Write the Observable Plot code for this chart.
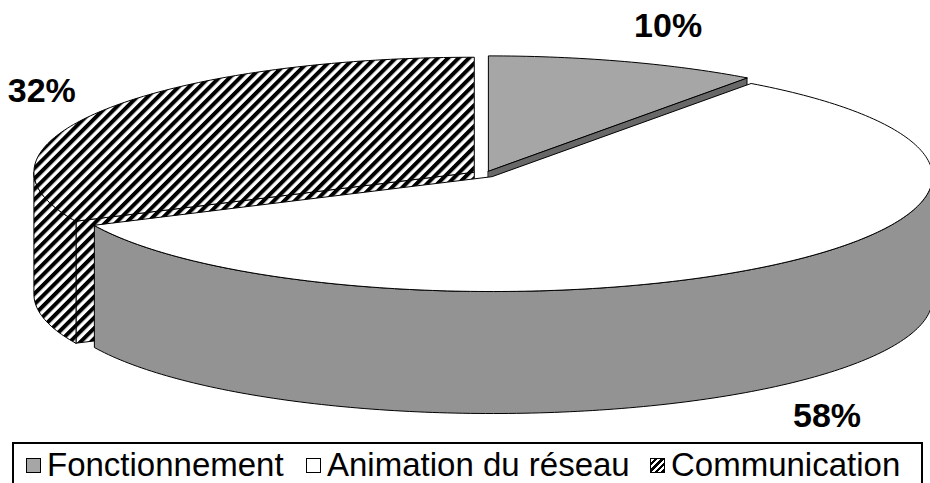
<!DOCTYPE html>
<html>
<head>
<meta charset="utf-8">
<script src="https://cdn.jsdelivr.net/npm/d3@7"></script>
<script src="https://cdn.jsdelivr.net/npm/@observablehq/plot@0.6"></script>
<style>
  body { margin: 0; background: #fff; font-family: "Liberation Sans", Arial, sans-serif; }
  #wrap { position: relative; width: 930px; height: 483px; overflow: hidden; background: #fff; }
  #legend { position: absolute; left: 12px; top: 442px; width: 911px; height: 56px; border: 2px solid #000;
            box-sizing: border-box; font-size: 33px; color: #000; white-space: nowrap; }
  .item { position: absolute; top: 5px; display: flex; align-items: center; line-height: 32px; }
  .sw { width: 15px; height: 15px; border: 1px solid #000; box-sizing: border-box; margin-right: 6px; display: inline-block; }
</style>
</head>
<body>
<div id="wrap"><div id="chart"></div><div id="legend"></div></div>
<script>
// ---- data ----
const categories = ["Fonctionnement", "Animation du réseau", "Communication"];
const values = [10, 58, 32];
const pctLabels = ["10%", "58%", "32%"];

// ---- styles / layout ----
const topColors = ["#a6a6a6", "#ffffff", "url(#hatch)"];
const sideColors = ["#686868", "#939393", "url(#hatch)"];
const legendLeft = [12, 292, 636];
const W = 930, H = 437;
const geo = {cx: 484, cy: 173.5, rx: 440, ry: 115, depth: 122, explode: 0.0285};

const rad = d => d * Math.PI / 180;
const total = d3.sum(values);
let acc = 0;
const slices = values.map((v, i) => {
  const s = acc / total * 360; acc += v; const e = acc / total * 360; const m = (s + e) / 2;
  return {i, s, e, m,
    cx: geo.cx + geo.explode * geo.rx * Math.sin(rad(m)),
    cy: geo.cy - geo.explode * geo.ry * Math.cos(rad(m))};
});
const pt = (sl, a, dz = 0) => ({x: sl.cx + geo.rx * Math.sin(rad(a)), y: sl.cy - geo.ry * Math.cos(rad(a)) + dz});
const arc = (sl, a0, a1, dz = 0) => {
  const n = Math.max(2, Math.ceil(Math.abs(a1 - a0)));
  return d3.range(n + 1).map(k => pt(sl, a0 + (a1 - a0) * k / n, dz));
};

const radial = [], sides = [], tops = [];
for (const sl of slices) {
  const apex = {x: sl.cx, y: sl.cy}, apexB = {x: sl.cx, y: sl.cy + geo.depth};
  if (Math.cos(rad(sl.s - 90)) < -1e-6) {
    radial.push({pts: [apex, pt(sl, sl.s), pt(sl, sl.s, geo.depth), apexB], fill: sideColors[sl.i]});
  }
  if (Math.cos(rad(sl.e + 90)) < -1e-6) {
    radial.push({pts: [apex, pt(sl, sl.e), pt(sl, sl.e, geo.depth), apexB], fill: sideColors[sl.i]});
  }
  const a0 = Math.max(sl.s, 90), a1 = Math.min(sl.e, 270);
  if (a1 > a0) {
    sides.push({pts: [...arc(sl, a0, a1), ...arc(sl, a1, a0, geo.depth)], fill: sideColors[sl.i]});
  }
  tops.push({pts: [apex, ...arc(sl, sl.s, sl.e)], fill: topColors[sl.i]});
}
const faces = [...radial, ...sides, ...tops];

const labelData = slices.map(sl => ({
  text: pctLabels[sl.i],
  x: geo.cx + 1.1 * geo.rx * Math.sin(rad(sl.m)),
  y: geo.cy - 1.35 * geo.ry * Math.cos(rad(sl.m)) + (Math.cos(rad(sl.m)) < 0 ? geo.depth : 0),
  right: Math.sin(rad(sl.m)) >= 0
}));

const chart = Plot.plot({
  width: W, height: H, margin: 0,
  x: {domain: [0, W], range: [0, W], axis: null},
  y: {domain: [0, H], range: [0, H], axis: null},
  style: {background: "#fff"},
  marks: [
    ...faces.map(f => Plot.line(f.pts, {x: "x", y: "y", curve: "linear-closed", fill: f.fill,
      stroke: "#000", strokeWidth: 1, strokeLinejoin: "round"})),
    Plot.text(labelData.filter(d => d.right), {x: "x", y: "y", text: "text", textAnchor: "start",
      fontSize: 34, fontWeight: "bold", fontFamily: "Liberation Sans, Arial, sans-serif", fill: "#000"}),
    Plot.text(labelData.filter(d => !d.right), {x: "x", y: "y", text: "text", textAnchor: "end",
      fontSize: 34, fontWeight: "bold", fontFamily: "Liberation Sans, Arial, sans-serif", fill: "#000"})
  ]
});
const ns = "http://www.w3.org/2000/svg";
const defs = document.createElementNS(ns, "defs");
defs.innerHTML = `<pattern id="hatch" patternUnits="userSpaceOnUse" width="7.4" height="7.4" patternTransform="rotate(45)">
  <rect width="7.4" height="7.4" fill="#fff"/><rect width="4" height="7.4" fill="#000"/></pattern>`;
chart.insertBefore(defs, chart.firstChild);
document.getElementById("chart").appendChild(chart);

// legend
const legend = document.getElementById("legend");
const swStyles = ["background:#a6a6a6", "background:#fff",
  "background:repeating-linear-gradient(-45deg,#000 0 2.5px,#fff 2.5px 4.5px)"];
categories.forEach((c, i) => {
  const it = document.createElement("div"); it.className = "item"; it.style.left = legendLeft[i] + "px";
  const sw = document.createElement("span"); sw.className = "sw"; sw.style.cssText = swStyles[i];
  const tx = document.createElement("span"); tx.textContent = c;
  it.appendChild(sw); it.appendChild(tx); legend.appendChild(it);
});
</script>
</body>
</html>
